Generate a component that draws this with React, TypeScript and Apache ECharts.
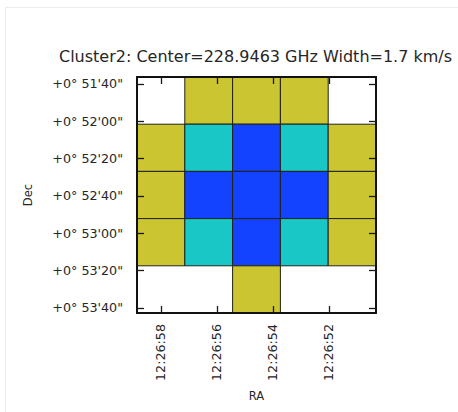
import React, { useEffect, useRef } from "react";
import * as echarts from "echarts";

const titleText = "Cluster2: Center=228.9463 GHz Width=1.7 km/s";

// cell grid: level per pixel (0 = empty, 1 = yellow, 2 = cyan, 3 = blue)
const row0 = [0, 1, 1, 1, 0];
const row1 = [1, 2, 3, 2, 1];
const row2 = [1, 3, 3, 3, 1];
const row3 = [1, 2, 3, 2, 1];
const row4 = [0, 0, 1, 0, 0];
const levelRows = [row0, row1, row2, row3, row4];
const levelColors = ["transparent", "#CBC532", "#19C7C7", "#1443FF"];

// RA ticks (seconds of 12h26m)
const raTickValues = [58, 56, 54, 52];
const raTickLabels = ["12:26:58", "12:26:56", "12:26:54", "12:26:52"];
const raRange = [50.32, 58.857];

// Dec ticks (arcsec beyond +0°)
const decTickValues = [3100, 3120, 3140, 3160, 3180, 3200, 3220];
const decTickLabels = [
  "+0° 51'40\"",
  "+0° 52'00\"",
  "+0° 52'20\"",
  "+0° 52'40\"",
  "+0° 53'00\"",
  "+0° 53'20\"",
  "+0° 53'40\"",
];
const decRange = [3096.25, 3222.68];

const FONT = "DejaVu Sans";
const TXT = "#262626";

export default function App() {
  const ref = useRef<HTMLDivElement>(null);
  useEffect(() => {
    if (!ref.current) return;
    const chart = echarts.init(ref.current, null, { renderer: "svg" });
    const cells: number[][] = [];
    levelRows.forEach((row, r) => row.forEach((lv, c) => cells.push([c, r, lv])));

    const frameLine = { show: true, onZero: false, lineStyle: { color: "#111", width: 2 } };
    const tickBase = { show: true, inside: true, length: 7, lineStyle: { color: "#1a1a1a", width: 1.3 } };

    chart.setOption({
      animation: false,
      grid: { left: 137, top: 77, width: 239, height: 236, containLabel: false },
      graphic: [
        {
          type: "rect",
          shape: { x: 5.5, y: 7.5, width: 470, height: 420 },
          style: { fill: "none", stroke: "#ececec", lineWidth: 1 },
          silent: true,
          z: -10,
        },
        {
          type: "text",
          x: 255.5,
          y: 48,
          style: {
            text: titleText,
            fill: TXT,
            font: `16px '${FONT}'`,
            textAlign: "center",
            textVerticalAlign: "top",
          },
        },
      ],
      xAxis: [
        { type: "value", min: 0, max: 5, show: false },
        {
          type: "value",
          position: "bottom",
          min: raRange[0],
          max: raRange[1],
          inverse: true,
          z: 10,
          axisLine: frameLine,
          axisTick: { ...tickBase, customValues: raTickValues },
          splitLine: { show: false },
          axisLabel: {
            customValues: raTickValues,
            rotate: 90,
            margin: 11,
            fontSize: 12.7,
            fontFamily: FONT,
            color: TXT,
            formatter: (v: number) => raTickLabels[raTickValues.indexOf(Math.round(v))] ?? "",
          },
          name: "RA",
          nameLocation: "middle",
          nameGap: 77,
          nameTextStyle: { fontSize: 11.5, fontFamily: FONT, color: TXT },
        },
        {
          type: "value",
          position: "top",
          min: raRange[0],
          max: raRange[1],
          inverse: true,
          z: 10,
          axisLine: frameLine,
          axisTick: { ...tickBase, customValues: raTickValues },
          splitLine: { show: false },
          axisLabel: { show: false },
        },
      ],
      yAxis: [
        { type: "value", min: 0, max: 5, inverse: true, show: false },
        {
          type: "value",
          position: "left",
          min: decRange[0],
          max: decRange[1],
          inverse: true,
          z: 10,
          axisLine: frameLine,
          axisTick: { ...tickBase, customValues: decTickValues },
          splitLine: { show: false },
          axisLabel: {
            customValues: decTickValues,
            margin: 14,
            fontSize: 12.7,
            fontFamily: FONT,
            color: TXT,
            formatter: (v: number) => decTickLabels[decTickValues.indexOf(Math.round(v))] ?? "",
          },
          name: "Dec",
          nameLocation: "middle",
          nameGap: 103,
          nameTextStyle: { fontSize: 11.5, fontFamily: FONT, color: TXT },
        },
        {
          type: "value",
          position: "right",
          min: decRange[0],
          max: decRange[1],
          inverse: true,
          z: 10,
          axisLine: frameLine,
          axisTick: { ...tickBase, customValues: decTickValues },
          splitLine: { show: false },
          axisLabel: { show: false },
        },
      ],
      series: [
        {
          type: "custom",
          xAxisIndex: 0,
          yAxisIndex: 0,
          data: cells,
          z: 0,
          renderItem: (params: any, api: any) => {
            const c = api.value(0);
            const r = api.value(1);
            const lv = api.value(2);
            if (!lv) return null;
            const p0 = api.coord([c, r]);
            const p1 = api.coord([c + 1, r + 1]);
            return {
              type: "rect",
              z2: 0,
              shape: { x: p0[0], y: p0[1], width: p1[0] - p0[0], height: p1[1] - p0[1] },
              style: { fill: levelColors[lv], stroke: "#222214", lineWidth: 1 },
            };
          },
        },
      ],
    });
    return () => chart.dispose();
  }, []);
  return (
    <div
      ref={ref}
      style={{ position: "fixed", left: 0, top: 0, width: 458, height: 412, background: "#fff" }}
    />
  );
}
